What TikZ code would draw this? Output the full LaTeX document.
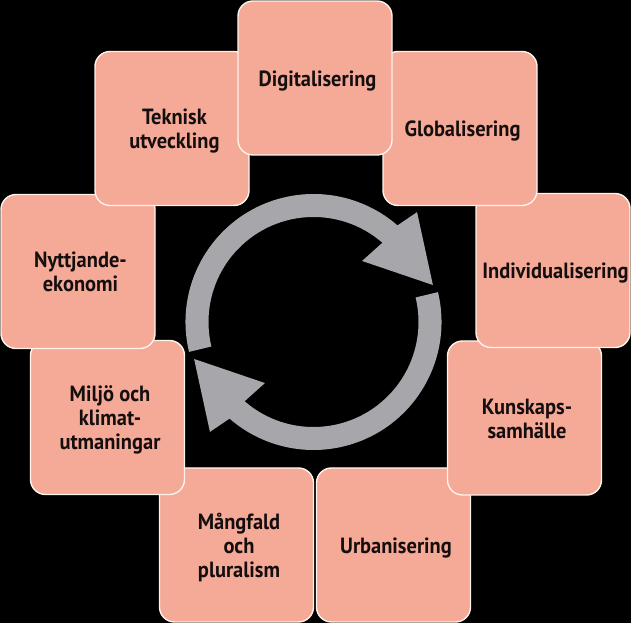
\documentclass[tikz,border=0pt]{standalone}
\usepackage{fontspec}
\setmainfont{PT Sans}[FakeStretch=0.93]
\usetikzlibrary{calc}
\definecolor{salmon}{HTML}{F5A997}
\definecolor{edgewhite}{HTML}{FFF4EC}
\definecolor{ringgrey}{HTML}{A7A7AB}
\definecolor{txt}{HTML}{140E0E}
\newcommand\boxtext[1]{\kern5pt\raisebox{-3.5pt}[\height][\depth]{\begin{tabular}{@{}c@{}}#1\end{tabular}}}
\begin{document}
\begin{tikzpicture}[x=1pt,y=1pt,
  box/.style={rectangle, rounded corners=15pt, minimum width=154pt, minimum height=154pt,
    fill=salmon, draw=edgewhite, line width=1.4pt, inner sep=0pt, align=center,
    text=txt, font=\bfseries\fontsize{22}{24}\selectfont}]
\fill[black] (0,0) rectangle (631,623);
\useasboundingbox (0,0) rectangle (631,623);
\coordinate (c) at (313.5,301);
% circular arrows
\fill[ringgrey] ($(c)+(193.5:128pt)$) arc[start angle=193.5, end angle=49, radius=128pt]
  -- ($(c)+(46.7:151pt)$) -- ($(c)+(17.2:125pt)$) -- ($(c)+(51.5:78pt)$)
  -- ($(c)+(49:105pt)$) arc[start angle=49, end angle=193.5, radius=105pt] -- cycle;
\fill[ringgrey] ($(c)+(13.5:128pt)$) arc[start angle=13.5, end angle=-131, radius=128pt]
  -- ($(c)+(226.7:151pt)$) -- ($(c)+(197.2:125pt)$) -- ($(c)+(231.5:78pt)$)
  -- ($(c)+(229:105pt)$) arc[start angle=-131, end angle=13.5, radius=105pt] -- cycle;
% boxes (drawing order matters for overlaps)
\node[box] (urb) at (393.5,78) {\boxtext{Urbanisering}};
\node[box] (kun) at (524.5,205) {\boxtext{Kunskaps-\\samhälle}};
\node[box] (ind) at (553,352.5) {\boxtext{Individualisering}};
\node[box] (glo) at (460,494.5) {\boxtext{Globalisering}};
\node[box] (man) at (236.5,78) {\boxtext{Mångfald\\och\\pluralism}};
\node[box] (mil) at (107.5,205.5) {\boxtext{Miljö och\\klimat-\\utmaningar}};
\node[box] (nyt) at (78,351.5) {\boxtext{Nyttjande-\\ekonomi}};
\node[box] (tek) at (172,494.5) {\boxtext{Teknisk\\utveckling}};
\node[box] (dig) at (315,545) {\boxtext{Digitalisering}};
\end{tikzpicture}
\end{document}
